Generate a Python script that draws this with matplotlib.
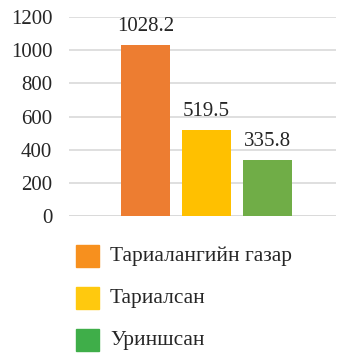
import matplotlib.pyplot as plt
from matplotlib.patches import Rectangle

# талбайн мэдээлэл
categories = ['Тариалангийн газар', 'Тариалсан', 'Уриншсан']
values = [1028.2, 519.5, 335.8]
bar_colors = ['#ED7D31', '#FFC000', '#70AD47']
legend_colors = ['#F7901E', '#FFC90E', '#3FAE49']
yticks = [0, 200, 400, 600, 800, 1000, 1200]

plt.rcParams['font.family'] = ['Liberation Serif', 'DejaVu Serif']

W, H = 337, 353
fig = plt.figure(figsize=(W / 100, H / 100), dpi=100)
ax = fig.add_axes([69 / W, 137 / H, 267 / W, 199 / H])

x = range(len(values))
ax.bar(x, values, width=0.8, color=bar_colors, zorder=3)
for xi, v in zip(x, values):
    ax.text(xi, v + 85, f'{v:.1f}', ha='center', va='baseline', fontsize=15, color='#262626')

ax.set_xlim(-1.254, 3.123)
ax.set_ylim(0, 1200)
ax.set_yticks(yticks)
ax.set_yticklabels([str(t) for t in yticks], fontsize=15, color='#262626')
ax.set_xticks([])
ax.tick_params(axis='y', length=0, pad=12)
ax.grid(axis='y', color='#d9d9d9', linewidth=1.2, zorder=0)
for s in ax.spines.values():
    s.set_visible(False)
ax.axhline(0, color='#d9d9d9', linewidth=1.2, zorder=2)

# тайлбар
for i, (lab, col) in enumerate(zip(categories, legend_colors)):
    yc = 256 + i * 42
    fig.add_artist(Rectangle((76 / W, (H - yc - 11) / H), 23 / W, 22 / H,
                             transform=fig.transFigure, color=col))
    fig.text(110 / W, (H - yc) / H, lab, ha='left', va='center',
             fontsize=15.4, color='#262626')

fig.savefig('out.png', dpi=100)
